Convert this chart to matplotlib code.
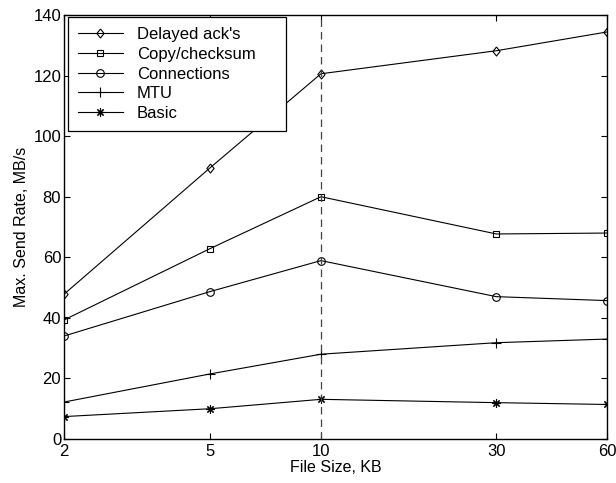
import matplotlib
matplotlib.use("Agg")
import matplotlib.pyplot as plt
from matplotlib.ticker import FixedLocator, FixedFormatter, NullLocator

plt.rcParams['font.family'] = ['Liberation Sans', 'DejaVu Sans']

file_sizes = [2, 5, 10, 30, 60]
x_tick_labels = ['2', '5', '10', '30', '60']
delayed_acks = [47.8, 89.6, 120.6, 128.2, 134.4]
copy_checksum = [39.3, 62.9, 80.0, 67.7, 68.0]
connections = [34.0, 48.7, 58.9, 47.0, 45.7]
mtu = [12.2, 21.5, 28.0, 31.8, 33.0]
basic = [7.4, 10.0, 13.1, 12.0, 11.4]
series_names = ["Delayed ack's", "Copy/checksum", "Connections", "MTU", "Basic"]
y_ticks = [0, 20, 40, 60, 80, 100, 120, 140]

fig = plt.figure(figsize=(6.16, 4.83), dpi=100)
ax = fig.add_axes([64/616, 44/483, 543/616, 424/483])

diamond = [(0, 1), (0.8, 0), (0, -1), (-0.8, 0), (0, 1)]
markers = [diamond, 's', 'o', '+', (8, 2, 0)]
msizes = [6.5, 5, 5.5, 7, 6]
for vals, name, m, ms in zip([delayed_acks, copy_checksum, connections, mtu, basic],
                             series_names, markers, msizes):
    ax.plot(file_sizes, vals, color='black', lw=0.8, marker=m, ms=ms,
            mfc='none', mec='black', mew=0.8, label=name)

ax.axvline(10, color='#444444', lw=0.9, ls=(0, (6, 4)))

ax.set_xscale('log')
ax.set_xlim(2, 60)
ax.set_ylim(0, 140)
ax.xaxis.set_major_locator(FixedLocator(file_sizes))
ax.xaxis.set_major_formatter(FixedFormatter(x_tick_labels))
ax.xaxis.set_minor_locator(NullLocator())
ax.set_yticks(y_ticks)
ax.tick_params(direction='in', top=True, right=True, length=4, width=0.8,
               labelsize=12, colors='black')
ax.tick_params(axis='x', pad=3.5)
ax.tick_params(axis='y', pad=2)
for s in ax.spines.values():
    s.set_linewidth(1.0)

ax.set_xlabel('File Size, KB', fontsize=11.5, labelpad=1)
ax.set_ylabel('Max. Send Rate, MB/s', fontsize=11.5, labelpad=3)

leg = ax.legend(loc='upper left',
                bbox_to_anchor=(4/543, (439-131)/424, 218/543, 114/424),
                mode='expand', borderaxespad=0,
                fancybox=False, edgecolor='black', framealpha=1, fontsize=12,
                handlelength=2.65, handletextpad=0.85, labelspacing=0.28,
                borderpad=0.62)
leg.get_frame().set_linewidth(0.9)

fig.savefig('out.png', dpi=100)
